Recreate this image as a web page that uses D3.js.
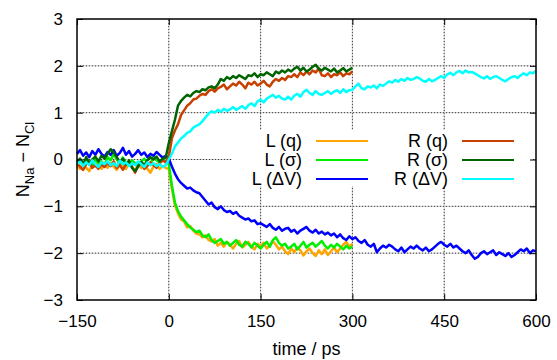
<!DOCTYPE html>
<html>
<head>
<meta charset="utf-8">
<script src="https://cdn.jsdelivr.net/npm/d3@7"></script>
<style>
  body { margin: 0; background: #fff; }
  svg text { font-family: "Liberation Sans", Arial, sans-serif; fill: #000; }
</style>
</head>
<body>
<svg id="chart" width="557" height="360"></svg>
<script>
// sample grids (ps)
var timeShort = d3.range(-150, 301, 5);
var timeLong = d3.range(-150, 601, 5);

var xTicks = [-150, 0, 150, 300, 450, 600];
var yTicks = [-3, -2, -1, 0, 1, 2, 3];

// L (q)
var lq = [
  -0.12,-0.2,-0.08,-0.18,-0.25,-0.1,-0.15,-0.05,-0.2,-0.12,
  -0.18,-0.08,-0.15,-0.22,-0.1,-0.14,-0.2,-0.06,-0.16,-0.24,
  -0.1,-0.18,-0.12,-0.2,-0.28,-0.15,-0.1,-0.2,-0.14,-0.18,
  -0.2,
  -0.62,-0.98,-1.15,-1.28,-1.32,-1.45,-1.42,-1.52,-1.58,-1.6,
  -1.66,-1.62,-1.72,-1.75,-1.7,-1.84,-1.78,-1.86,-1.76,-1.82,
  -1.9,-1.8,-1.74,-1.88,-1.82,-1.76,-1.86,-1.92,-1.8,-1.85,
  -1.78,-1.9,-1.84,-1.75,-1.82,-1.92,-1.86,-1.96,-2.02,-1.9,
  -1.98,-1.88,-1.94,-2.05,-1.96,-1.9,-2.0,-2.06,-1.94,-2.02,
  -1.92,-2.04,-1.96,-1.88,-1.98,-1.9,-1.82,-1.76,-1.86,-1.8
];
// L (sigma)
var ls = [
  -0.1,-0.02,-0.12,0.02,-0.06,-0.14,0.0,-0.08,-0.04,-0.12,
  0.05,-0.02,0.12,0.0,-0.1,0.04,-0.06,-0.12,-0.02,-0.08,
  -0.14,-0.04,0.02,-0.08,-0.1,0.06,-0.02,-0.06,0.02,-0.04,
  -0.1,
  -0.55,-0.92,-1.1,-1.22,-1.3,-1.38,-1.45,-1.5,-1.55,-1.52,
  -1.62,-1.66,-1.6,-1.72,-1.78,-1.74,-1.7,-1.8,-1.76,-1.84,
  -1.78,-1.72,-1.82,-1.86,-1.76,-1.8,-1.88,-1.78,-1.84,-1.9,
  -1.82,-1.76,-1.86,-1.72,-1.66,-1.78,-1.84,-1.8,-1.9,-1.86,
  -1.8,-1.92,-1.84,-1.76,-1.88,-1.82,-1.78,-1.86,-1.8,-1.74,
  -1.84,-1.9,-1.82,-1.88,-1.8,-1.86,-1.92,-1.84,-1.9,-1.86
];
// L (dV)
var lv = [
  0.12,0.2,0.08,0.15,0.05,0.18,0.1,0.22,0.12,0.06,
  0.16,0.1,0.2,0.08,0.14,0.25,0.1,0.18,0.06,0.12,
  0.2,0.1,0.15,0.05,0.12,0.08,0.16,0.1,0.04,0.08,
  0.02,
  -0.15,-0.3,-0.42,-0.5,-0.56,-0.62,-0.6,-0.66,-0.7,-0.72,
  -0.8,-0.88,-0.96,-0.92,-1.02,-1.06,-1.0,-1.08,-1.12,-1.1,
  -1.16,-1.12,-1.2,-1.24,-1.28,-1.26,-1.32,-1.3,-1.38,-1.36,
  -1.4,-1.44,-1.38,-1.46,-1.5,-1.44,-1.52,-1.48,-1.46,-1.54,
  -1.5,-1.58,-1.52,-1.48,-1.44,-1.52,-1.56,-1.5,-1.58,-1.54,
  -1.6,-1.56,-1.62,-1.58,-1.66,-1.6,-1.68,-1.72,-1.64,-1.7,
  -1.66,-1.74,-1.78,-1.72,-1.82,-1.86,-1.8,-1.98,-1.9,-1.84,
  -1.88,-1.82,-1.86,-1.92,-1.96,-1.88,-1.98,-1.92,-1.86,-1.9,
  -1.84,-1.9,-1.94,-1.88,-1.96,-1.92,-1.86,-1.8,-1.76,-1.82,
  -1.86,-1.8,-1.88,-1.84,-1.9,-1.96,-2.0,-1.94,-2.04,-2.12,
  -2.08,-2.0,-1.96,-2.02,-1.98,-1.94,-2.04,-1.98,-2.02,-2.06,
  -2.0,-2.08,-2.04,-1.98,-1.92,-1.96,-1.9,-2.0,-1.94,-1.96
];
// R (q)
var rq = [
  -0.08,-0.15,-0.22,-0.1,-0.05,-0.18,-0.12,-0.2,-0.1,-0.16,
  -0.08,-0.14,-0.04,-0.18,-0.12,-0.22,-0.1,-0.06,-0.16,-0.28,
  -0.12,-0.08,-0.2,-0.14,-0.06,-0.12,-0.18,-0.08,-0.02,-0.06,
  0.05,
  0.45,0.62,0.75,0.95,1.05,1.15,1.2,1.28,1.3,1.36,
  1.4,1.38,1.46,1.5,1.45,1.52,1.55,1.6,1.5,1.56,
  1.62,1.58,1.66,1.6,1.52,1.64,1.6,1.66,1.58,1.62,
  1.68,1.6,1.56,1.66,1.72,1.68,1.74,1.7,1.78,1.76,
  1.82,1.76,1.86,1.8,1.88,1.82,1.9,1.86,1.94,1.8,
  1.78,1.84,1.76,1.82,1.8,1.86,1.78,1.84,1.82,1.88
];
// R (sigma)
var rs = [
  -0.05,0.02,-0.1,0.05,-0.08,0.0,0.06,-0.04,0.08,0.02,
  0.12,0.22,0.15,0.05,-0.05,0.02,-0.1,-0.02,-0.18,-0.25,
  -0.15,-0.05,-0.12,-0.02,0.05,0.0,0.06,-0.04,0.02,0.04,
  0.35,
  0.6,0.85,1.15,1.25,1.32,1.38,1.35,1.42,1.46,1.44,
  1.5,1.48,1.54,1.56,1.52,1.6,1.72,1.68,1.76,1.72,
  1.78,1.74,1.8,1.76,1.72,1.8,1.78,1.84,1.76,1.82,
  1.8,1.86,1.82,1.78,1.88,1.84,1.9,1.86,1.92,1.88,
  1.94,1.98,1.9,1.96,1.88,1.92,1.98,2.02,1.94,1.9,
  1.96,1.92,1.88,1.94,1.86,1.9,1.95,1.88,1.92,1.96
];
// R (dV)
var rv = [
  -0.1,-0.04,-0.14,-0.06,-0.12,-0.02,-0.1,-0.16,-0.06,-0.1,
  -0.04,-0.12,-0.08,-0.14,-0.02,-0.1,-0.06,-0.14,-0.08,-0.12,
  -0.04,-0.1,-0.16,-0.06,-0.12,-0.08,-0.14,-0.1,-0.16,-0.12,
  0.0,
  0.12,0.28,0.36,0.45,0.5,0.57,0.6,0.68,0.72,0.75,
  0.82,0.9,0.98,1.03,1.0,1.06,1.02,1.08,1.04,1.07,
  1.12,1.06,1.1,1.14,1.08,1.16,1.2,1.14,1.24,1.28,
  1.22,1.3,1.34,1.38,1.32,1.36,1.3,1.28,1.34,1.28,
  1.36,1.4,1.34,1.44,1.49,1.42,1.38,1.46,1.4,1.38,
  1.42,1.46,1.4,1.45,1.48,1.42,1.5,1.44,1.48,1.49,
  1.56,1.62,1.52,1.5,1.56,1.54,1.58,1.52,1.6,1.57,
  1.62,1.67,1.64,1.7,1.66,1.72,1.68,1.74,1.7,1.72,
  1.76,1.73,1.68,1.66,1.72,1.67,1.7,1.74,1.78,1.74,
  1.82,1.85,1.8,1.86,1.89,1.84,1.9,1.86,1.87,1.84,
  1.8,1.76,1.73,1.78,1.72,1.76,1.78,1.74,1.7,1.67,
  1.72,1.76,1.78,1.74,1.8,1.84,1.8,1.86,1.84,1.89
];

var series = [
  {name: "L (q)",  t: timeShort, v: lq, color: "#ffa500", col: 0, row: 0},
  {name: "L (σ)",  t: timeShort, v: ls, color: "#00ee00", col: 0, row: 1},
  {name: "L (ΔV)", t: timeLong,  v: lv, color: "#0000ff", col: 0, row: 2},
  {name: "R (q)",  t: timeShort, v: rq, color: "#c84000", col: 1, row: 0},
  {name: "R (σ)",  t: timeShort, v: rs, color: "#006400", col: 1, row: 1},
  {name: "R (ΔV)", t: timeLong,  v: rv, color: "#00ffff", col: 1, row: 2}
];

var margin = {top: 19, right: 21, bottom: 60, left: 77};
var W = 557, H = 360;
var svg = d3.select("#chart");

var x = d3.scaleLinear().domain([-150, 600]).range([margin.left, W - margin.right]);
var y = d3.scaleLinear().domain([-3, 3]).range([H - margin.bottom, margin.top]);

// grid
var grid = svg.append("g");
xTicks.slice(1, -1).forEach(function(t) {
  grid.append("line").attr("x1", x(t)).attr("x2", x(t)).attr("y1", y(-3)).attr("y2", y(3))
    .attr("stroke", "#c4c4c4").attr("stroke-width", 1);
  grid.append("line").attr("x1", x(t)).attr("x2", x(t)).attr("y1", y(-3)).attr("y2", y(3))
    .attr("stroke", "#444").attr("stroke-width", 1).attr("stroke-dasharray", "1,2");
});
yTicks.slice(1, -1).forEach(function(t) {
  grid.append("line").attr("x1", x(-150)).attr("x2", x(600)).attr("y1", y(t)).attr("y2", y(t))
    .attr("stroke", "#c4c4c4").attr("stroke-width", 1);
  grid.append("line").attr("x1", x(-150)).attr("x2", x(600)).attr("y1", y(t)).attr("y2", y(t))
    .attr("stroke", "#444").attr("stroke-width", 1).attr("stroke-dasharray", "1,2");
});

// legend background (opaque key)
svg.append("rect").attr("x", 232).attr("y", 130).attr("width", 301).attr("height", 56).attr("fill", "#fff");

// data lines
var line = d3.line();
series.forEach(function(s) {
  var pts = s.t.map(function(t, i) { return [x(t), y(s.v[i])]; });
  svg.append("path").attr("d", line(pts)).attr("fill", "none")
    .attr("stroke", s.color).attr("stroke-width", 2.5).attr("stroke-linejoin", "round");
});

// legend
var leg = svg.append("g").style("font-size", "18px");
series.forEach(function(s) {
  var tx = s.col === 0 ? 302 : 448;
  var ly = 141 + s.row * 19;
  leg.append("text").attr("x", tx).attr("y", ly).attr("dy", "0.35em").attr("text-anchor", "end").text(s.name);
  leg.append("line").attr("x1", tx + 14).attr("x2", tx + 66).attr("y1", ly).attr("y2", ly)
    .attr("stroke", s.color).attr("stroke-width", 2);
});

// axes
var fmt = d3.format("d");
function clean(g) {
  g.attr("font-size", null).attr("font-family", null);
  g.select(".domain").remove();
  g.selectAll(".tick line").attr("stroke", "#000").attr("stroke-width", 1);
  g.selectAll("text").style("font-size", "17px");
}
svg.append("g").attr("transform", "translate(0," + y(-3) + ")")
  .call(d3.axisBottom(x).tickValues(xTicks).tickSize(-6).tickPadding(15).tickFormat(fmt)).call(clean);
svg.append("g").attr("transform", "translate(0," + y(3) + ")")
  .call(d3.axisTop(x).tickValues(xTicks).tickSize(-6).tickFormat("")).call(clean);
svg.append("g").attr("transform", "translate(" + x(-150) + ",0)")
  .call(d3.axisLeft(y).tickValues(yTicks).tickSize(-6).tickPadding(14).tickFormat(fmt)).call(clean);
svg.append("g").attr("transform", "translate(" + x(600) + ",0)")
  .call(d3.axisRight(y).tickValues(yTicks).tickSize(-6).tickFormat("")).call(clean);

svg.append("rect").attr("x", x(-150)).attr("y", y(3))
  .attr("width", x(600) - x(-150)).attr("height", y(-3) - y(3))
  .attr("fill", "none").attr("stroke", "#000").attr("stroke-width", 1.5);

// axis titles
svg.append("text").attr("x", (x(-150) + x(600)) / 2).attr("y", 355)
  .attr("text-anchor", "middle").style("font-size", "18px").text("time / ps");

var yl = svg.append("text").attr("transform", "translate(29," + y(0) + ") rotate(-90)")
  .attr("text-anchor", "middle").style("font-size", "18px");
yl.append("tspan").text("N");
yl.append("tspan").attr("dy", 5).style("font-size", "13px").text("Na");
yl.append("tspan").attr("dy", -5).text(" − N");
yl.append("tspan").attr("dy", 5).style("font-size", "13px").text("Cl");
</script>
</body>
</html>
